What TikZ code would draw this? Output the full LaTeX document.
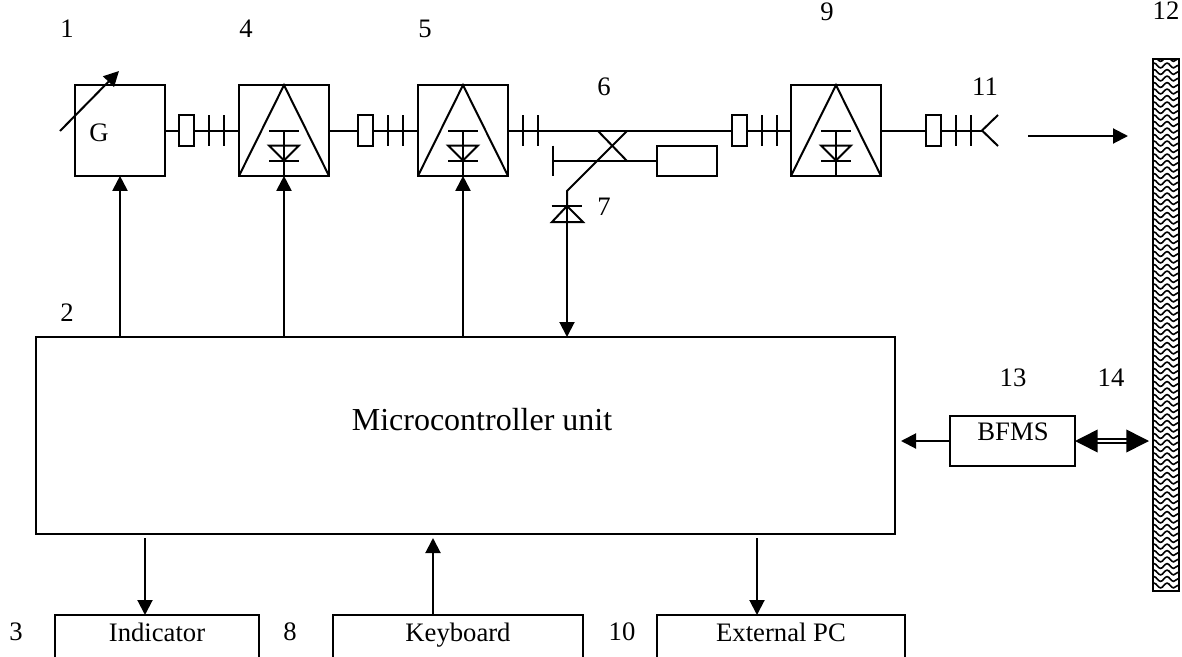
\documentclass[tikz,border=0pt]{standalone}
\usepackage{fontspec}
\setmainfont{Liberation Serif}
\usetikzlibrary{arrows.meta,positioning,decorations.pathmorphing}

\begin{document}
\begin{tikzpicture}[
    x=0.75pt, y=-0.75pt,
    line width=1.5pt,
    font=\fontsize{20}{24}\selectfont,
    block/.style={rectangle, draw, outer sep=0pt, inner sep=0pt, minimum width=67.5pt, minimum height=68pt},
    flange/.style={rectangle, draw, outer sep=0pt, inner sep=0pt, minimum width=11.25pt, minimum height=23pt},
    lowbox/.style={rectangle, draw, outer sep=0pt, anchor=north, inner ysep=0pt, text height=20pt, text depth=40pt},
    num/.style={inner sep=0pt},
    arrow/.style={-{Triangle[length=11.25pt, width=11.25pt]}}
]
    \path[use as bounding box, clip] (0,0) rectangle (1182,657);

    % Microwave path
    \node[block] (gen) at (120,130.5) {};
    \node[block, right=55.5pt of gen] (ampa) {};
    \node[block, right=66.75pt of ampa] (ampb) {};
    \node[block, right=212.25pt of ampb] (ampc) {};
    \node[flange] (fa) at (186.5,130.5) {};
    \node[flange] (fb) at (365.5,130.5) {};
    \node[flange] (fc) at (739.5,130.5) {};
    \node[flange] (fd) at (933.5,130.5) {};
    \node[flange, minimum width=45pt] (load) at (687,161) {};
    \coordinate (horn) at (982,130.5);
    \coordinate (hornup) at (998,115);
    \coordinate (horndn) at (998,146);

    % Waveguide lines
    \draw (gen) -- (fa) (fa) -- (ampa);
    \draw (ampa) -- (fb) (fb) -- (ampb);
    \draw (ampb) -- (fc) (fc) -- (ampc);
    \draw (ampc) -- (fd) (fd) -- (horn);
    \draw (hornup) -- (horn) -- (horndn);
    \foreach \f in {fa,fb,ampb,fc,fd} {
        \draw ([xshift=11.25pt,yshift=11.6pt]\f.east) -- ([xshift=11.25pt,yshift=-11.6pt]\f.east);
        \draw ([xshift=22.5pt,yshift=11.6pt]\f.east) -- ([xshift=22.5pt,yshift=-11.6pt]\f.east);
    }

    % Triangles and diodes
    \foreach \a in {ampa,ampb,ampc} {
        \draw (\a.south west) -- (\a.north) -- (\a.south east);
        \draw ([xshift=-11.25pt]\a.center) -- ([xshift=11.25pt]\a.center);
        \draw (\a.center) -- (\a.south);
        \draw ([xshift=-11.25pt,yshift=-11.25pt]\a.center) -- ([xshift=11.25pt,yshift=-11.25pt]\a.center)
            -- ([yshift=-22.5pt]\a.center) -- cycle;
        \draw ([xshift=-11.25pt,yshift=-22.5pt]\a.center) -- ([xshift=11.25pt,yshift=-22.5pt]\a.center);
    }

    % Coupler
    \coordinate (stubend) at (553,161);
    \coordinate (bend) at (567,191);
    \coordinate (detect) at (567,206);
    \draw (598,131) -- (627,161);
    \draw (627,131) -- (bend) -- (detect);
    \draw (stubend) -- (load);
    \draw ([yshift=11.6pt]stubend) -- ([yshift=-11.6pt]stubend);
    \draw ([xshift=-11.6pt]detect) -- ([xshift=11.6pt]detect);
    \draw (detect) -- (583,222) -- (552,222) -- cycle;

    % Control unit
    \node[block, minimum width=644.25pt, minimum height=147.75pt] (mcu) at (465.5,435.5) {};
    \node[font=\fontsize{24}{28}\selectfont] (mcutext) at (482,420) {Microcontroller unit};
    \node (gtext) at (99,133) {G};

    \draw[arrow] (gen.south |- mcu.north) -- (gen.south);
    \draw[arrow] (ampa.south |- mcu.north) -- (ampa.south);
    \draw[arrow] (ampb.south |- mcu.north) -- (ampb.south);
    \draw[arrow] (detect) -- (detect |- mcu.north);

    % Lower boxes
    \node[lowbox, minimum width=153pt] (indicator) at (157,615) {Indicator};
    \node[lowbox, minimum width=187.5pt] (keyboard) at (458,615) {Keyboard};
    \node[lowbox, minimum width=186pt] (extpc) at (781,615) {External PC};
    \coordinate (mcua) at (145,538);
    \coordinate (mcub) at (433,538);
    \coordinate (mcuc) at (757,538);
    \draw[arrow] (mcua) -- (mcua |- indicator.north);
    \draw[arrow] (mcub |- keyboard.north) -- (mcub);
    \draw[arrow] (mcuc) -- (mcuc |- extpc.north);

    % Wall and sensor
    \node[block, minimum width=19.5pt, minimum height=399pt] (wall) at (1166,325) {};
    \begin{scope}
        \clip (wall.south west) rectangle (wall.north east);
        \foreach \i in {0,...,81} {
            \draw[line width=1.2pt, decorate, decoration={snake, segment length=9.75pt, amplitude=1.8pt}]
                (1150,59+6.5*\i) -- (1182,59+6.5*\i);
        }
    \end{scope}
    \draw (wall.south west) rectangle (wall.north east);
    \node[block, minimum width=93.75pt, minimum height=37.5pt] (bfms) at (1012.5,441) {};
    \node (bfmstext) at (1013,432) {BFMS};
    \coordinate (beamstart) at (1028,136);
    \coordinate (beamend) at (1128,136);
    \draw[arrow] (beamstart) -- (beamend);
    \draw[arrow] (bfms.west) -- (901,441);
    \draw[{Triangle[length=17pt, width=17pt]}-{Triangle[length=17pt, width=17pt]}, double, double distance=1.5pt, line width=1.2pt]
        (bfms.east) -- (1149,441);

    % Numbers
    \node[num] (n1) at (67,29) {1};
    \node[num] (n2) at (67,313) {2};
    \node[num] (n3) at (16,632) {3};
    \node[num] (n4) at (246,29) {4};
    \node[num] (n5) at (425,29) {5};
    \node[num] (n6) at (604,87) {6};
    \node[num] (n7) at (604,207) {7};
    \node[num] (n8) at (290,632) {8};
    \node[num] (n9) at (827,12) {9};
    \node[num] (n10) at (622,632) {10};
    \node[num] (n11) at (985,87) {11};
    \node[num] (n12) at (1166,11) {12};
    \node[num] (n13) at (1013,378) {13};
    \node[num] (n14) at (1111,378) {14};

    % Tuning arrow
    \coordinate (tunea) at (60,131);
    \coordinate (tuneb) at (119,71);
    \draw[arrow] (tunea) -- (tuneb);
\end{tikzpicture}
\end{document}
